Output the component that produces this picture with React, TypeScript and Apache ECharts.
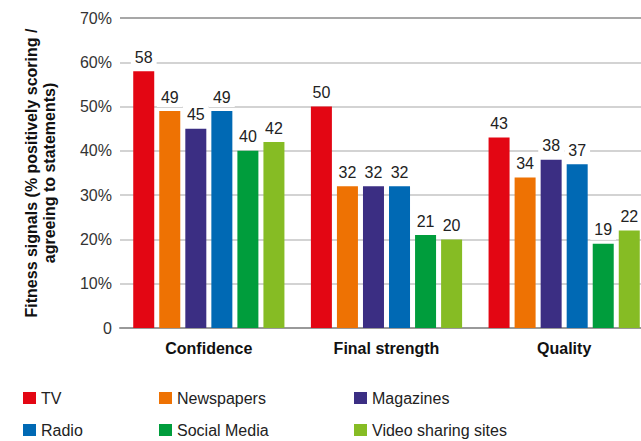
import React, { useEffect, useRef } from "react";
import * as echarts from "echarts";

// Fitness signals by media channel
const categories = ["Confidence", "Final strength", "Quality"];
const seriesNames = ["TV", "Newspapers", "Magazines", "Radio", "Social Media", "Video sharing sites"];
const tvValues = [58, 50, 43];
const newspaperValues = [49, 32, 34];
const magazineValues = [45, 32, 38];
const radioValues = [49, 32, 37];
const socialValues = [40, 21, 19];
const videoValues = [42, 20, 22];
const yTicks = [0, 10, 20, 30, 40, 50, 60, 70];

const colors = ["#e30613", "#ee7203", "#3b2e83", "#0069b4", "#009d3c", "#86bc24"];
const FONT = "'Liberation Sans', Arial, sans-serif";

export default function App() {
  const ref = useRef<HTMLDivElement>(null);

  useEffect(() => {
    if (!ref.current) return;
    const chart = echarts.init(ref.current, null, { renderer: "svg" });
    const values = [tvValues, newspaperValues, magazineValues, radioValues, socialValues, videoValues];

    const series = seriesNames.map((name, i) => ({
      name,
      type: "bar",
      data: values[i],
      barWidth: 21,
      barGap: "24%",
      itemStyle: { color: colors[i] },
      label: {
        show: true,
        position: "top",
        distance: 4,
        fontFamily: FONT,
        fontSize: 16,
        color: "#222",
        backgroundColor: "#fff",
        padding: [1, 4, 2, 4],
      },
    }));

    const legendCol = (left: number, data: string[]) => ({
      left,
      top: 390,
      orient: "vertical",
      padding: 0,
      itemGap: 16,
      itemWidth: 13,
      itemHeight: 12,
      icon: "rect",
      selectedMode: false,
      data,
      textStyle: { fontFamily: FONT, fontSize: 16, color: "#222", lineHeight: 16 },
    });

    chart.setOption({
      animation: false,
      backgroundColor: "#fff",
      grid: { left: 120, top: 18, width: 533, height: 310, outerBoundsMode: "none" },
      xAxis: {
        type: "category",
        data: categories,
        axisLine: { lineStyle: { color: "#999", width: 2 } },
        axisTick: { show: false },
        axisLabel: { fontFamily: FONT, fontSize: 16, fontWeight: "bold", color: "#111", margin: 12 },
      },
      yAxis: {
        type: "value",
        min: yTicks[0],
        max: yTicks[yTicks.length - 1],
        interval: 10,
        name: "Fitness signals (% positively scoring /\nagreeing to statements)",
        nameLocation: "middle",
        nameRotate: 90,
        nameGap: 62,
        nameTextStyle: { fontFamily: FONT, fontSize: 16, fontWeight: "bold", color: "#111", lineHeight: 18 },
        axisLine: { show: false },
        axisTick: { show: false },
        axisLabel: {
          fontFamily: FONT,
          fontSize: 16,
          color: "#333",
          margin: 8,
          formatter: (v: number) => (v === 0 ? "0" : `${v}%`),
        },
        splitLine: {
          lineStyle: {
            color: ["#c4c4c4", "#c4c4c4", "#c4c4c4", "#c4c4c4", "#c4c4c4", "#c4c4c4", "#c4c4c4", "#8a8a8a"],
            width: 1.5,
          },
        },
      },
      legend: [
        legendCol(23, ["TV", "Radio"]),
        legendCol(159, ["Newspapers", "Social Media"]),
        legendCol(354, ["Magazines", "Video sharing sites"]),
      ],
      series,
    });

    return () => chart.dispose();
  }, []);

  return <div ref={ref} style={{ width: 641, height: 441, position: "absolute", left: 0, top: 0 }} />;
}
